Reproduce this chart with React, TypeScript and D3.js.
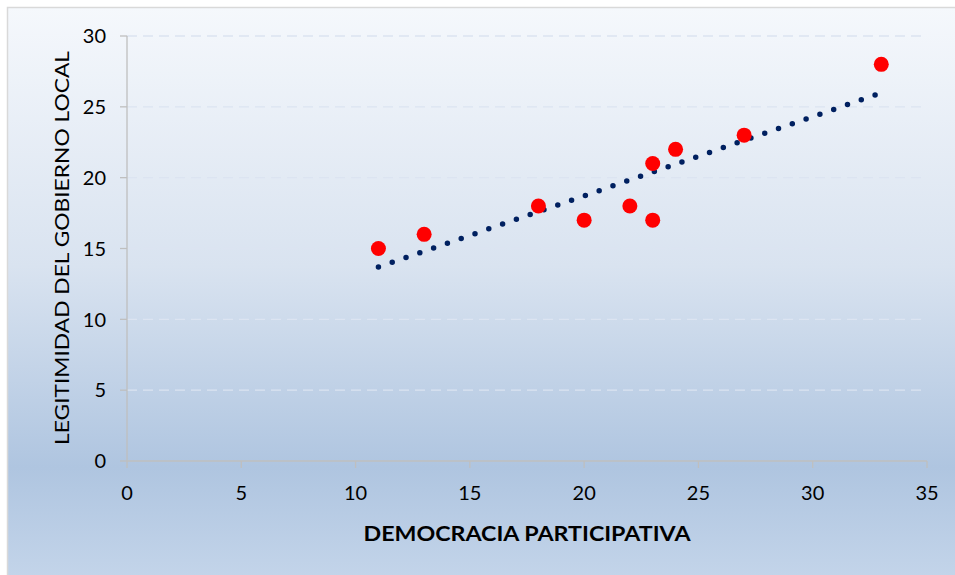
import React from "react";
import * as d3 from "d3";

const WIDTH = 955;
const HEIGHT = 575;

// democracia participativa (x) vs legitimidad del gobierno local (y)
const democracia = [11, 13, 18, 20, 22, 23, 23, 24, 27, 33];
const legitimidad = [15, 16, 18, 17, 18, 21, 17, 22, 23, 28];

const xTicks = [0, 5, 10, 15, 20, 25, 30, 35];
const yTicks = [0, 5, 10, 15, 20, 25, 30];

const xTitle = "DEMOCRACIA PARTICIPATIVA";
const yTitle = "LEGITIMIDAD DEL GOBIERNO LOCAL";

const FONT = "Lato, 'Open Sans', sans-serif";

export default function App() {
  const x = d3.scaleLinear().domain([0, 35]).range([127, 927]);
  const y = d3.scaleLinear().domain([0, 30]).range([461, 36]);

  const points = democracia.map((d, i) => ({ x: d, y: legitimidad[i] }));

  // least squares trend line
  const mx = d3.mean(democracia) ?? 0;
  const my = d3.mean(legitimidad) ?? 0;
  const sxy = d3.sum(points, (p) => (p.x - mx) * (p.y - my));
  const sxx = d3.sum(points, (p) => (p.x - mx) ** 2);
  const slope = sxy / sxx;
  const intercept = my - slope * mx;
  const [x0, x1] = d3.extent(democracia) as [number, number];
  const trend = d3
    .line<number>()
    .x((d) => x(d))
    .y((d) => y(intercept + slope * d))([x0, x1]);

  return (
    <svg
      width={WIDTH}
      height={HEIGHT}
      style={{ position: "absolute", left: 0, top: 0, display: "block" }}
    >
      <defs>
        <linearGradient id="bg" x1="0" y1="0" x2="0" y2="1">
          <stop offset="0" stopColor="#f5f8fc" />
          <stop offset="0.45" stopColor="#d9e3f0" />
          <stop offset="0.8" stopColor="#afc5e0" />
          <stop offset="1" stopColor="#c4d5ea" />
        </linearGradient>
      </defs>
      <rect x={0} y={0} width={WIDTH} height={HEIGHT} fill="#ffffff" />
      <rect
        x={7.5}
        y={7.5}
        width={WIDTH}
        height={HEIGHT}
        fill="url(#bg)"
        stroke="#d9d9d9"
        strokeWidth={1.5}
      />

      {yTicks
        .filter((t) => t > 0)
        .map((t) => (
          <line
            key={`g${t}`}
            x1={x(0)}
            x2={x(35)}
            y1={y(t)}
            y2={y(t)}
            stroke="#dce4f1"
            strokeWidth={1.3}
            strokeDasharray="10 6"
          />
        ))}

      <line x1={x(0)} x2={x(0)} y1={y(0)} y2={y(30)} stroke="#bfbfbf" strokeWidth={1.3} />
      <line x1={x(0)} x2={x(35)} y1={y(0)} y2={y(0)} stroke="#bfbfbf" strokeWidth={1.3} />

      {yTicks.map((t) => (
        <g key={`y${t}`}>
          <line x1={x(0) - 7} x2={x(0)} y1={y(t)} y2={y(t)} stroke="#bfbfbf" strokeWidth={1.3} />
          <text
            x={106}
            y={y(t)}
            dy="0.36em"
            textAnchor="end"
            fontFamily={FONT}
            fontSize={20}
            fill="#000"
          >
            {t}
          </text>
        </g>
      ))}

      {xTicks.map((t) => (
        <g key={`x${t}`}>
          <line x1={x(t)} x2={x(t)} y1={y(0)} y2={y(0) + 7} stroke="#bfbfbf" strokeWidth={1.3} />
          <text
            x={x(t)}
            y={500}
            textAnchor="middle"
            fontFamily={FONT}
            fontSize={20}
            fill="#000"
          >
            {t}
          </text>
        </g>
      ))}

      <path
        d={trend ?? ""}
        fill="none"
        stroke="#002060"
        strokeWidth={5.5}
        strokeLinecap="round"
        strokeDasharray="0 14.6"
      />

      {points.map((p, i) => (
        <circle key={i} cx={x(p.x)} cy={y(p.y)} r={7.5} fill="#ff0000" />
      ))}

      <text
        x={527}
        y={541}
        textAnchor="middle"
        fontFamily={FONT}
        fontSize={21}
        fontWeight="bold"
        fill="#000"
        textLength={327}
        lengthAdjust="spacingAndGlyphs"
      >
        {xTitle}
      </text>
      <text
        transform={`translate(69,248) rotate(-90)`}
        textAnchor="middle"
        fontFamily={FONT}
        fontSize={20}
        fill="#000"
        textLength={394}
        lengthAdjust="spacingAndGlyphs"
      >
        {yTitle}
      </text>
    </svg>
  );
}
